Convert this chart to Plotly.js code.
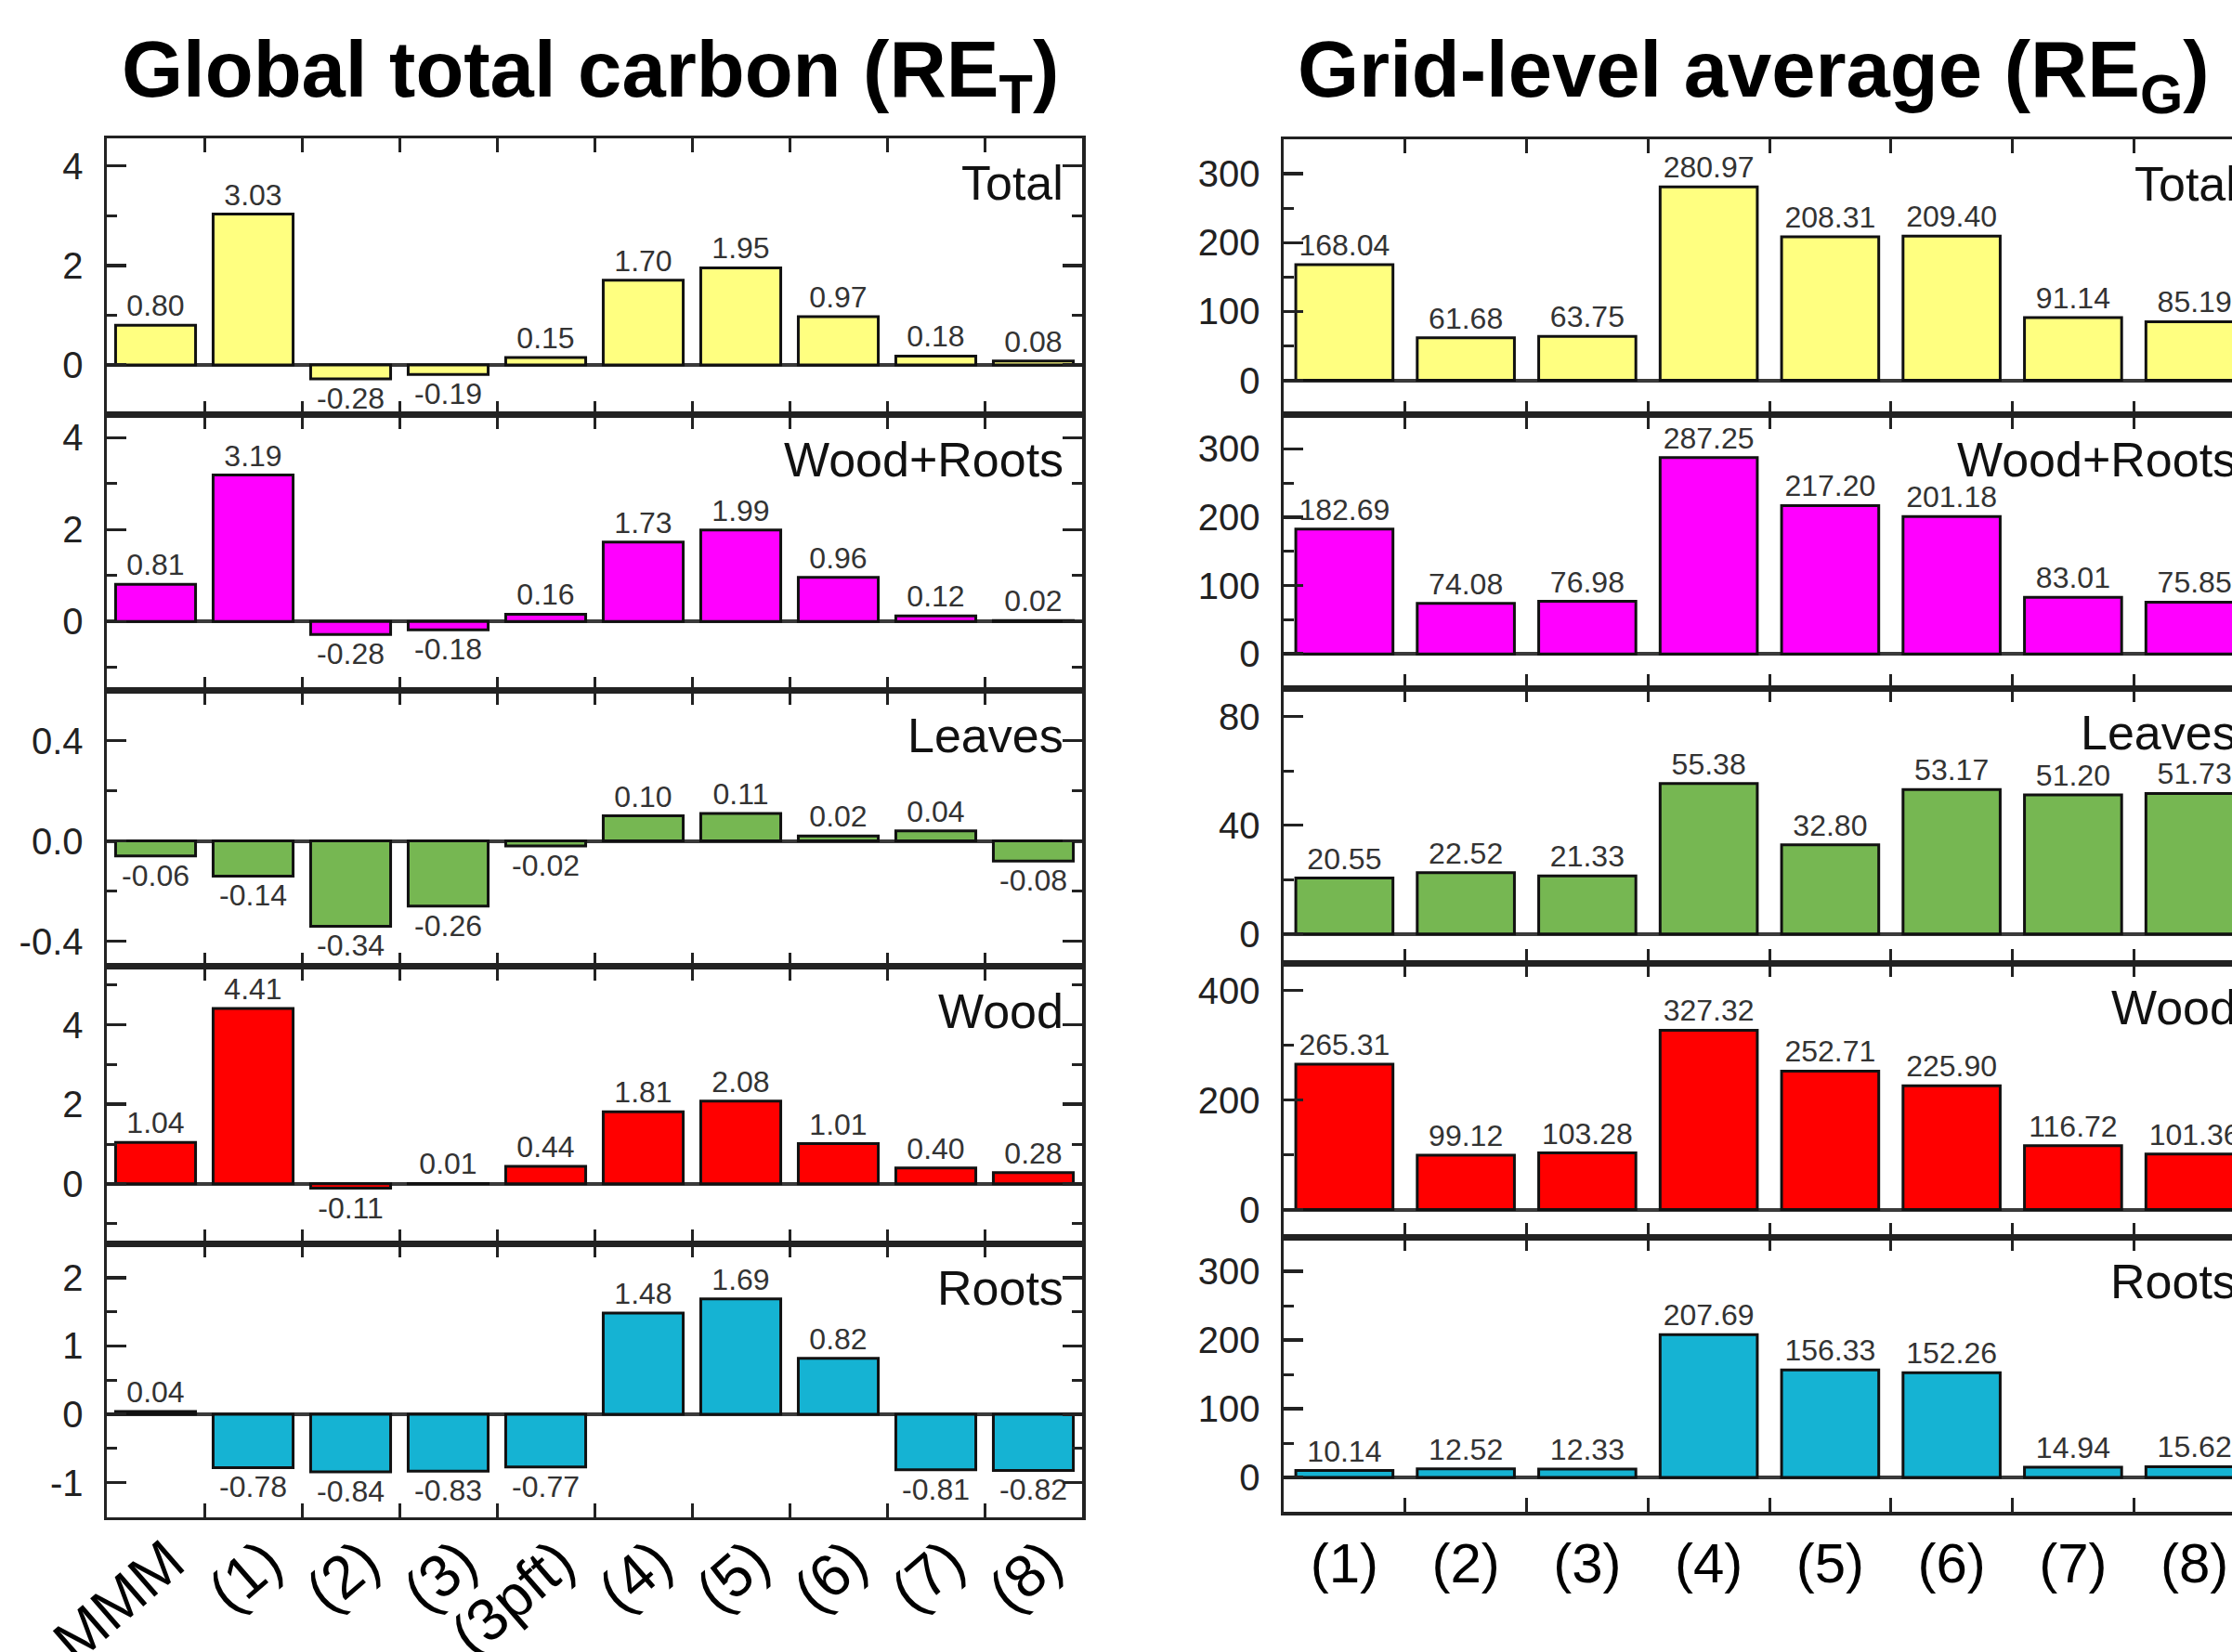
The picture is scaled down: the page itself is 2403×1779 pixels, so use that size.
<!DOCTYPE html>
<html><head><meta charset="utf-8">
<script src="https://cdn.plot.ly/plotly-3.0.1.min.js"></script>
<style>html,body{margin:0;padding:0;overflow:hidden;background:#fff}#chart{width:2460px;height:1779px}</style>
</head><body><div id="chart"></div>
<script>
// ---------- data ----------
const categoriesLeft = ['MMM','(1)','(2)','(3)','(3pft)','(4)','(5)','(6)','(7)','(8)'];
const categoriesRight = ['(1)','(2)','(3)','(4)','(5)','(6)','(7)','(8)'];
const panelNames = ['Total','Wood+Roots','Leaves','Wood','Roots'];

const totalLeft     = [0.80, 3.03, -0.28, -0.19, 0.15, 1.70, 1.95, 0.97, 0.18, 0.08];
const woodRootsLeft = [0.81, 3.19, -0.28, -0.18, 0.16, 1.73, 1.99, 0.96, 0.12, 0.02];
const leavesLeft    = [-0.06, -0.14, -0.34, -0.26, -0.02, 0.10, 0.11, 0.02, 0.04, -0.08];
const woodLeft      = [1.04, 4.41, -0.11, 0.01, 0.44, 1.81, 2.08, 1.01, 0.40, 0.28];
const rootsLeft     = [0.04, -0.78, -0.84, -0.83, -0.77, 1.48, 1.69, 0.82, -0.81, -0.82];

const totalRight     = [168.04, 61.68, 63.75, 280.97, 208.31, 209.40, 91.14, 85.19];
const woodRootsRight = [182.69, 74.08, 76.98, 287.25, 217.20, 201.18, 83.01, 75.85];
const leavesRight    = [20.55, 22.52, 21.33, 55.38, 32.80, 53.17, 51.20, 51.73];
const woodRight      = [265.31, 99.12, 103.28, 327.32, 252.71, 225.90, 116.72, 101.36];
const rootsRight     = [10.14, 12.52, 12.33, 207.69, 156.33, 152.26, 14.94, 15.62];

// tick values / labels
const tickValsLeft  = [[0,2,4],[0,2,4],[-0.4,0,0.4],[0,2,4],[-1,0,1,2]];
const tickTextLeft  = [['0','2','4'],['0','2','4'],['-0.4','0.0','0.4'],['0','2','4'],['-1','0','1','2']];
const tickValsRight = [[0,100,200,300],[0,100,200,300],[0,40,80],[0,200,400],[0,100,200,300]];
const tickTextRight = [['0','100','200','300'],['0','100','200','300'],['0','40','80'],['0','200','400'],['0','100','200','300']];

// ---------- styling / layout config ----------
const FONT = 'Liberation Sans, Arial, sans-serif';
const W = 2460, H = 1779;
const colors = ['#FFFF80','#FF00FF','#76B752','#FF0000','#15B3D3'];
const rangesLeft  = [[-1,4.55],[-1.5,4.5],[-0.5,0.6],[-1.5,5.47],[-1.5,2.5]];
const rangesRight = [[-50,350],[-50,350],[-10.7,90.5],[-50,450],[-50,350]];
const minorLeft  = [1,1,0.2,1,0.5];
const minorRight = [50,50,20,100,50];
const edgesLeft  = [149, 446.7, 743.5, 1040.7, 1339, 1633.5];
const edgesRight = [150, 446.7, 741, 1037, 1332, 1628];
const xDomLeft  = [115/W, 1165/W];
const xDomRight = [1382/W, 2428/W];

const valuesLeft  = [totalLeft, woodRootsLeft, leavesLeft, woodLeft, rootsLeft];
const valuesRight = [totalRight, woodRootsRight, leavesRight, woodRight, rootsRight];

const data = [];
const layout = {
  width: W, height: H,
  margin: {l:0, r:0, t:0, b:0},
  paper_bgcolor: '#fff', plot_bgcolor: '#fff',
  showlegend: false, bargap: 0,
  font: {family: FONT, color: '#222'},
  annotations: []
};

function addPanel(idx, cats, vals, color, range, tvals, ttext, minorD, edges, k, xdom, barW, isBottom, isLeft) {
  const xs = idx === 1 ? 'x' : 'x' + idx;
  const ys = idx === 1 ? 'y' : 'y' + idx;
  data.push({
    type: 'bar', x: cats, y: vals, xaxis: xs, yaxis: ys, width: barW,
    marker: {color: color, line: {color: '#111', width: 3}},
    text: vals.map(v => v.toFixed(2)), textposition: 'outside',
    textfont: {family: FONT, size: 32, color: '#333'},
    constraintext: 'none', cliponaxis: false, hoverinfo: 'skip'
  });
  const axX = xs === 'x' ? 'xaxis' : 'xaxis' + idx;
  const axY = ys === 'y' ? 'yaxis' : 'yaxis' + idx;
  const xax = {
    domain: xdom, anchor: ys, type: 'category', range: [-0.5, cats.length - 0.5],
    tickson: 'boundaries', ticks: 'inside', ticklen: 15, tickwidth: 3, tickcolor: '#222',
    showline: true, linewidth: 3.5, linecolor: '#222', mirror: 'ticks',
    showgrid: false, zeroline: false, showticklabels: isBottom,
    tickfont: {family: FONT, size: isLeft ? 64 : 60, color: '#000'},
    fixedrange: true
  };
  if (isLeft) {
    xax.tickangle = -41;
    xax.ticklabelshift = 14;
    xax.ticklabelstandoff = -18;
  } else {
    xax.tickangle = 0;
  }
  layout[axX] = xax;
  layout[axY] = {
    domain: [1 - edges[k+1]/H, 1 - edges[k]/H], anchor: xs, range: range,
    tickmode: 'array', tickvals: tvals, ticktext: ttext,
    ticks: 'inside', ticklen: 21, tickwidth: 3.5, tickcolor: '#222',
    showline: true, linewidth: 3.5, linecolor: '#222', mirror: 'ticks',
    showgrid: false, zeroline: true, zerolinecolor: '#3a3a3a', zerolinewidth: 4,
    tickfont: {family: FONT, size: 40, color: '#222'}, ticklabelstandoff: 14,
    minor: {tickmode: 'linear', tick0: 0, dtick: minorD, ticks: 'inside', ticklen: 11, tickwidth: 3, tickcolor: '#222'},
    fixedrange: true
  };
  layout.annotations.push({
    xref: xs + ' domain', yref: ys + ' domain', x: 1, y: 1,
    xanchor: 'right', yanchor: 'middle', xshift: -18, yshift: -48,
    text: panelNames[k], showarrow: false,
    font: {family: FONT, size: 52, color: '#111'}
  });
}

for (let k = 0; k < 5; k++) {
  addPanel(k+1, categoriesLeft, valuesLeft[k], colors[k], rangesLeft[k], tickValsLeft[k], tickTextLeft[k],
           minorLeft[k], edgesLeft, k, xDomLeft, 0.82, k === 4, true);
  addPanel(k+6, categoriesRight, valuesRight[k], colors[k], rangesRight[k], tickValsRight[k], tickTextRight[k],
           minorRight[k], edgesRight, k, xDomRight, 0.8, k === 4, false);
}

layout.annotations.push({
  xref: 'paper', yref: 'paper', x: 635/W, y: 1 - 25/H, xanchor: 'center', yanchor: 'top',
  text: '<b>Global total carbon (RE<sub>T</sub>)</b>', showarrow: false,
  font: {family: FONT, size: 85, color: '#000'}
});
layout.annotations.push({
  xref: 'paper', yref: 'paper', x: 1888/W, y: 1 - 25/H, xanchor: 'center', yanchor: 'top',
  text: '<b>Grid-level average (RE<sub>G</sub>)</b>', showarrow: false,
  font: {family: FONT, size: 85, color: '#000'}
});

Plotly.newPlot('chart', data, layout, {staticPlot: true, displayModeBar: false});
</script>
</body></html>
